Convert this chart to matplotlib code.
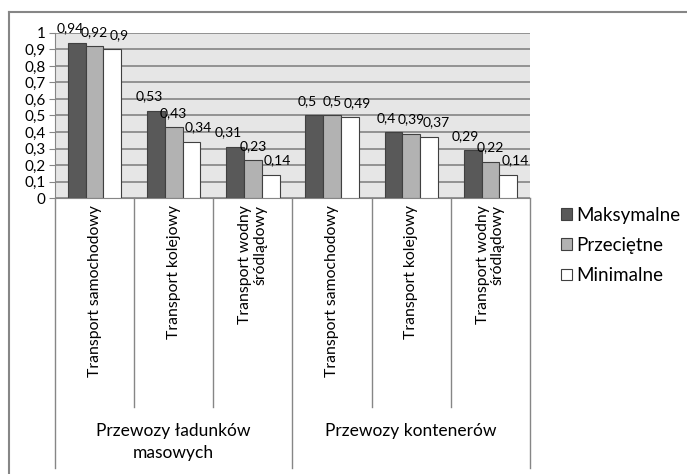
import numpy as np
import matplotlib
matplotlib.use("Agg")
import matplotlib.pyplot as plt
import matplotlib.transforms as mtransforms
from matplotlib.lines import Line2D

# data
categories = ["Transport samochodowy", "Transport kolejowy", "Transport wodny\nśródlądowy",
              "Transport samochodowy", "Transport kolejowy", "Transport wodny\nśródlądowy"]
groups = ["Przewozy ładunków\nmasowych", "Przewozy kontenerów"]
series_names = ["Maksymalne", "Przeciętne", "Minimalne"]
maks = [0.94, 0.53, 0.31, 0.5, 0.4, 0.29]
przec = [0.92, 0.43, 0.23, 0.5, 0.39, 0.22]
mini = [0.9, 0.34, 0.14, 0.49, 0.37, 0.14]
yticks = [0, 0.1, 0.2, 0.3, 0.4, 0.5, 0.6, 0.7, 0.8, 0.9, 1]

plt.rcParams['font.family'] = ['Lato', 'DejaVu Sans']

W, H = 687, 474
fig = plt.figure(figsize=(W / 100, H / 100), dpi=100)
ax = fig.add_axes([55 / W, 1 - 198 / H, 475 / W, 165 / H])

grey = "#868686"
ax.set_facecolor("#e6e6e6")
x = np.arange(len(categories))
w = 0.225
colors = ["#595959", "#b2b2b2", "#ffffff"]
nudge = [-5, 0, 5]  # spread the labels sideways a bit, like Excel does
for i, (vals, c, name) in enumerate(zip([maks, przec, mini], colors, series_names)):
    bars = ax.bar(x + (i - 1) * w, vals, w, color=c, edgecolor="#404040", linewidth=0.8,
                  label=name, zorder=3)
    for b, v in zip(bars, vals):
        ax.annotate(("%g" % v).replace(".", ","), (b.get_x() + b.get_width() / 2, v),
                    xytext=(nudge[i], 6), textcoords="offset points", ha="center",
                    va="bottom", fontsize=10, zorder=4)

ax.set_xlim(-0.5, len(categories) - 0.5)
ax.set_ylim(0, 1)
ax.set_yticks(yticks)
ax.set_yticklabels([("%g" % t).replace(".", ",") for t in yticks], fontsize=11)
ax.yaxis.grid(True, color="#8c8c8c", linewidth=1.3, zorder=0)
ax.set_axisbelow(True)
ax.set_xticks([])
ax.tick_params(axis="y", length=4, color=grey, pad=3)
for s in ["top", "right"]:
    ax.spines[s].set_visible(False)
ax.spines["left"].set_color(grey)
ax.spines["bottom"].set_color(grey)

# multi-level category axis
trans = mtransforms.blended_transform_factory(ax.transData, ax.transAxes)
inner_end = -209 / 165
outer_end = -270 / 165
for k in range(len(categories) + 1):
    xb = k - 0.5
    end = outer_end if k % 3 == 0 else inner_end
    ax.add_line(Line2D([xb, xb], [0, end], transform=trans, color=grey, lw=1, clip_on=False))
for k, lab in enumerate(categories):
    ax.text(k, -7 / 165, lab, transform=trans, rotation=90, ha="center", va="top",
            multialignment="right", fontsize=11.3, linespacing=1.1)
for g, lab in enumerate(groups):
    ax.text(g * 3 + 1, -225 / 165, lab, transform=trans, ha="center", va="top",
            fontsize=12.5, linespacing=1.45)

fig.legend(loc="upper left", bbox_to_anchor=(544 / W, 1 - 190 / H), frameon=False,
           fontsize=13.5, handlelength=0.6, handleheight=0.6, handletextpad=0.2,
           labelspacing=0.7)

# outer chart border
fig.add_artist(Line2D([9 / W, 9 / W], [0, 1 - 12 / H], color=grey, lw=1.5))
fig.add_artist(Line2D([9 / W, 1], [1 - 12 / H, 1 - 12 / H], color=grey, lw=1.5))

fig.savefig("out.png", dpi=100)
